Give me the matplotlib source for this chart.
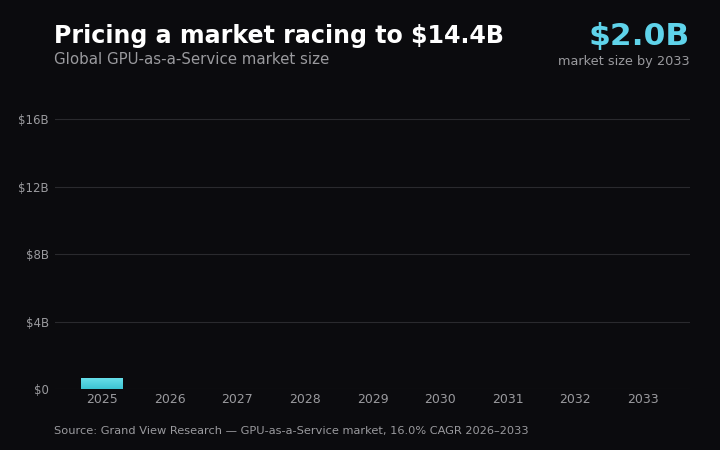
import numpy as np
import matplotlib
matplotlib.use("Agg")
import matplotlib.pyplot as plt
from matplotlib.colors import LinearSegmentedColormap

years = ["2025", "2026", "2027", "2028", "2029", "2030", "2031", "2032", "2033"]
market_b = [0.68, np.nan, np.nan, np.nan, np.nan, np.nan, np.nan, np.nan, np.nan]
y_ticks = [0, 4, 8, 12, 16]
y_labels = ["$0", "$4B", "$8B", "$12B", "$16B"]

BG = "#0b0b0e"
GRID = "#2a2a2e"
MUTED = "#9a9a9e"
ACCENT = "#5fd3ea"

fig = plt.figure(figsize=(7.2, 4.5), dpi=100, facecolor=BG)
ax = fig.add_axes([55 / 720, 61 / 450, 635 / 720, 295 / 450], facecolor=BG)

x = np.arange(len(years))
bars = ax.bar(x, market_b, width=0.62, color="#4fd0df", edgecolor="none", zorder=3)

# vertical gradient inside each bar
grad = LinearSegmentedColormap.from_list("g", ["#3cc4d3", "#6be2ec"])
for b in bars:
    h = b.get_height()
    if not np.isfinite(h) or h <= 0:
        continue
    x0, w = b.get_x(), b.get_width()
    im = ax.imshow(np.linspace(0, 1, 64).reshape(-1, 1), cmap=grad, origin="lower",
                   extent=[x0, x0 + w, 0, h], aspect="auto", zorder=4)
    im.set_clip_path(b)

ax.set_xlim(-0.7, len(years) - 0.3)
ax.set_ylim(0, 17.5)
ax.set_xticks(x)
ax.set_xticklabels(years)
ax.set_yticks(y_ticks)
ax.set_yticklabels(y_labels)
ax.tick_params(colors=MUTED, labelsize=9, length=0)
ax.tick_params(axis="x", pad=3)
ax.tick_params(axis="y", labelsize=8.5, pad=4.5)
ax.grid(axis="y", color=GRID, linewidth=0.8, zorder=0)
for s in ax.spines.values():
    s.set_visible(False)

fig.text(54 / 720, 1 - 36 / 450, "Pricing a market racing to $14.4B", color="white",
         fontsize=17.1, fontweight="bold", va="center", ha="left")
fig.text(54 / 720, 1 - 59 / 450, "Global GPU-as-a-Service market size", color=MUTED,
         fontsize=10.85, va="center", ha="left")
fig.text(690 / 720, 1 - 36 / 450, "$2.0B", color=ACCENT,
         fontsize=22.5, fontweight="bold", va="center", ha="right")
fig.text(690 / 720, 1 - 61 / 450, "market size by 2033", color=MUTED,
         fontsize=9.3, va="center", ha="right")
fig.text(54 / 720, 1 - 431 / 450,
         "Source: Grand View Research — GPU-as-a-Service market, 16.0% CAGR 2026–2033",
         color=MUTED, fontsize=8.2, va="center", ha="left")

fig.savefig("out.png", dpi=100, facecolor=BG)
